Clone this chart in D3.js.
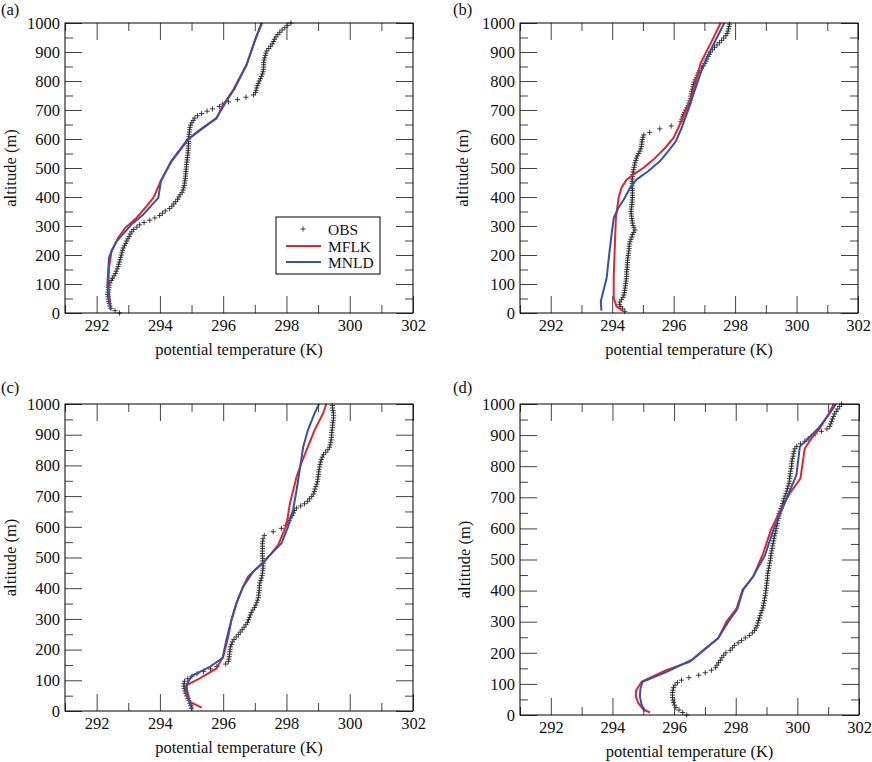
<!DOCTYPE html>
<html>
<head>
<meta charset="utf-8">
<script src="https://cdn.jsdelivr.net/npm/d3@7"></script>
<style>
  html, body { margin: 0; padding: 0; background: #fff; }
  svg, svg text { font-family: "Liberation Serif", Tinos, "Times New Roman", Times, "Nimbus Roman", "DejaVu Serif", serif; }
</style>
</head>
<body>
<script>
// ---------- tick values / labels ----------
const xDomain = [291, 302];
const yDomain = [0, 1000];
const xMajor = [292, 294, 296, 298, 300, 302];
const xMinor = [291, 293, 295, 297, 299, 301];
const yMajor = [0, 100, 200, 300, 400, 500, 600, 700, 800, 900, 1000];
const yMinor = [50, 150, 250, 350, 450, 550, 650, 750, 850, 950];
const xTitle = "potential temperature (K)";
const yTitle = "altitude (m)";
const seriesNames = ["OBS", "MFLK", "MNLD"];
const panelLetters = ["(a)", "(b)", "(c)", "(d)"];

// ---------- data: [potential temperature (K), altitude (m)] ----------
const obsA = [[292.72,0],[292.58,8],[292.45,16],[292.42,24],[292.40,32],[292.38,40],[292.37,48],[292.36,56],[292.35,64],[292.36,72],[292.37,80],[292.38,88],[292.39,96],[292.42,104],[292.46,112],[292.50,120],[292.55,128],[292.59,136],[292.62,144],[292.65,152],[292.68,160],[292.70,168],[292.72,176],[292.74,184],[292.76,192],[292.78,200],[292.80,208],[292.82,216],[292.84,224],[292.88,232],[292.92,240],[292.95,248],[292.99,256],[293.03,264],[293.06,272],[293.11,280],[293.17,288],[293.27,296],[293.36,304],[293.50,312],[293.68,320],[293.84,328],[293.99,336],[294.08,344],[294.17,352],[294.30,360],[294.38,368],[294.44,376],[294.50,384],[294.56,392],[294.60,400],[294.64,408],[294.70,416],[294.73,424],[294.75,432],[294.77,440],[294.78,448],[294.79,456],[294.80,464],[294.81,472],[294.82,480],[294.82,488],[294.83,496],[294.84,504],[294.84,512],[294.85,520],[294.86,528],[294.87,536],[294.88,544],[294.89,552],[294.89,560],[294.90,568],[294.90,576],[294.90,584],[294.90,592],[294.91,600],[294.92,608],[294.92,616],[294.93,624],[294.94,632],[294.95,640],[294.97,648],[295.01,656],[295.05,664],[295.10,672],[295.19,680],[295.32,688],[295.49,696],[295.66,704],[295.88,712],[295.98,720],[296.17,728],[296.45,736],[296.72,744],[296.96,752],[297.02,760],[297.04,768],[297.06,776],[297.08,784],[297.11,792],[297.14,800],[297.18,808],[297.21,816],[297.24,824],[297.26,832],[297.27,840],[297.28,848],[297.28,856],[297.28,864],[297.29,872],[297.31,880],[297.33,888],[297.35,896],[297.38,904],[297.44,912],[297.50,920],[297.55,928],[297.59,936],[297.62,944],[297.67,952],[297.73,960],[297.79,968],[297.86,976],[297.95,984],[298.04,992],[298.14,1000]];
const mflkA = [[292.44,12],[292.37,98],[292.39,155],[292.47,213],[292.68,259],[292.90,293],[293.26,328],[293.53,362],[293.79,397],[293.89,420],[294.02,454],[294.37,523],[294.89,598],[295.26,632],[295.79,672],[296.00,718],[296.32,770],[296.74,856],[297.03,948],[297.21,1000]];
const mnldA = [[292.44,12],[292.34,98],[292.39,190],[292.47,213],[292.63,247],[293.10,305],[293.47,339],[293.95,397],[294.03,454],[294.35,523],[294.87,598],[295.79,672],[296.10,730],[296.34,770],[296.74,856],[297.03,948],[297.23,1000]];

const obsB = [[294.41,6],[294.34,14],[294.28,22],[294.24,30],[294.25,38],[294.30,46],[294.35,54],[294.38,62],[294.40,70],[294.41,78],[294.42,86],[294.43,94],[294.44,102],[294.45,110],[294.46,118],[294.47,126],[294.47,134],[294.47,142],[294.48,150],[294.49,158],[294.49,166],[294.50,174],[294.50,182],[294.51,190],[294.52,198],[294.53,206],[294.54,214],[294.55,222],[294.55,230],[294.56,238],[294.58,246],[294.61,254],[294.64,262],[294.66,270],[294.70,278],[294.74,286],[294.71,294],[294.68,302],[294.66,310],[294.65,318],[294.64,326],[294.63,334],[294.62,342],[294.61,350],[294.62,358],[294.63,366],[294.64,374],[294.65,382],[294.65,390],[294.66,398],[294.66,406],[294.66,414],[294.66,422],[294.65,430],[294.65,438],[294.65,446],[294.65,454],[294.65,462],[294.66,470],[294.67,478],[294.68,486],[294.70,494],[294.71,502],[294.73,510],[294.74,518],[294.77,526],[294.79,534],[294.82,542],[294.86,550],[294.90,558],[294.93,566],[294.95,574],[294.96,582],[294.97,590],[294.98,598],[295.00,606],[295.03,614],[295.22,623],[295.55,635],[295.92,645],[296.24,660],[296.27,668],[296.29,676],[296.32,684],[296.35,692],[296.39,700],[296.43,708],[296.47,716],[296.50,724],[296.53,732],[296.55,740],[296.56,748],[296.58,756],[296.59,764],[296.61,772],[296.63,780],[296.65,788],[296.67,796],[296.70,804],[296.74,812],[296.77,820],[296.80,828],[296.85,836],[296.91,844],[296.96,852],[297.01,860],[297.05,868],[297.08,876],[297.12,884],[297.16,892],[297.20,900],[297.26,908],[297.33,916],[297.41,924],[297.49,932],[297.56,940],[297.63,948],[297.70,956],[297.74,964],[297.77,972],[297.79,980],[297.80,988],[297.82,996]];
const mflkB = [[294.36,6],[294.14,23],[294.05,52],[294.05,121],[294.08,213],[294.12,328],[294.21,397],[294.30,431],[294.47,460],[294.68,477],[295.01,500],[295.39,534],[295.72,569],[295.99,603],[296.15,638],[296.29,672],[296.53,730],[296.69,787],[296.88,862],[297.07,902],[297.29,948],[297.53,1000]];
const mnldB = [[293.65,8],[293.63,40],[293.71,75],[293.82,121],[293.89,190],[293.98,270],[294.05,328],[294.20,362],[294.41,397],[294.58,431],[294.79,460],[295.17,489],[295.55,523],[295.82,557],[296.07,592],[296.26,638],[296.42,684],[296.64,753],[296.86,822],[297.07,879],[297.29,925],[297.65,1000]];

const obsC = [[295.00,9],[294.98,17],[294.95,25],[294.92,33],[294.89,41],[294.85,49],[294.82,57],[294.79,65],[294.77,73],[294.76,81],[294.76,89],[294.78,97],[294.88,105],[295.01,113],[295.17,121],[295.38,129],[295.60,137],[295.80,145],[296.08,153],[296.16,161],[296.18,169],[296.19,177],[296.20,185],[296.21,193],[296.22,201],[296.23,209],[296.26,217],[296.29,225],[296.34,233],[296.41,241],[296.48,249],[296.54,257],[296.60,265],[296.66,273],[296.72,281],[296.77,289],[296.80,297],[296.83,305],[296.86,313],[296.89,321],[296.94,329],[296.99,337],[297.03,345],[297.06,353],[297.09,361],[297.11,369],[297.12,377],[297.13,385],[297.14,393],[297.14,401],[297.15,409],[297.16,417],[297.19,425],[297.21,433],[297.23,441],[297.24,449],[297.25,457],[297.26,465],[297.26,473],[297.26,481],[297.25,489],[297.25,497],[297.24,505],[297.24,513],[297.24,521],[297.24,529],[297.24,537],[297.24,545],[297.25,553],[297.26,561],[297.30,572],[297.58,584],[297.84,595],[297.98,605],[298.05,613],[298.09,621],[298.13,629],[298.18,637],[298.22,645],[298.25,653],[298.32,661],[298.45,668],[298.57,675],[298.67,683],[298.73,691],[298.80,699],[298.85,707],[298.88,715],[298.90,723],[298.93,731],[298.96,739],[298.98,747],[298.99,755],[299.00,763],[299.01,771],[299.02,779],[299.03,787],[299.05,795],[299.06,803],[299.08,811],[299.10,819],[299.13,827],[299.17,835],[299.24,843],[299.31,851],[299.36,859],[299.38,867],[299.40,875],[299.41,883],[299.42,891],[299.43,899],[299.43,907],[299.44,915],[299.45,923],[299.46,931],[299.47,939],[299.48,947],[299.49,955],[299.49,963],[299.48,971],[299.47,979],[299.46,987],[299.45,995]];
const mflkC = [[295.32,11],[294.95,30],[294.84,58],[294.81,79],[294.89,87],[295.26,106],[295.79,139],[296.00,177],[296.16,242],[296.26,296],[296.42,351],[296.61,400],[296.79,438],[297.00,459],[297.26,483],[297.53,514],[297.74,541],[298.00,606],[298.11,676],[298.32,763],[298.47,807],[298.68,861],[298.89,915],[299.16,970],[299.26,1000]];
const mnldC = [[295.00,9],[294.93,36],[294.86,68],[294.84,85],[295.00,114],[295.58,144],[295.98,172],[296.10,231],[296.26,296],[296.42,351],[296.63,405],[296.95,454],[297.26,483],[297.58,519],[297.84,546],[298.05,600],[298.21,655],[298.32,720],[298.42,785],[298.53,861],[298.68,915],[298.89,970],[299.03,1000]];

const obsD = [[296.41,0],[296.28,8],[296.16,16],[296.06,24],[296.01,32],[295.98,40],[295.96,48],[295.95,56],[295.95,64],[295.95,72],[295.96,80],[295.98,88],[296.03,96],[296.11,104],[296.24,112],[296.48,120],[296.80,128],[297.01,136],[297.21,144],[297.34,152],[297.39,160],[297.44,168],[297.50,176],[297.55,184],[297.61,192],[297.68,200],[297.82,208],[297.89,216],[297.96,224],[298.08,232],[298.19,240],[298.31,248],[298.44,256],[298.54,264],[298.61,272],[298.66,280],[298.70,288],[298.72,296],[298.74,304],[298.77,312],[298.79,320],[298.82,328],[298.85,336],[298.88,344],[298.90,352],[298.91,360],[298.93,368],[298.94,376],[298.96,384],[298.97,392],[298.98,400],[298.99,408],[299.00,416],[299.01,424],[299.02,432],[299.03,440],[299.03,448],[299.04,456],[299.06,464],[299.07,472],[299.09,480],[299.10,488],[299.12,496],[299.13,504],[299.14,512],[299.15,520],[299.17,528],[299.18,536],[299.20,544],[299.21,552],[299.23,560],[299.24,568],[299.26,576],[299.28,584],[299.30,592],[299.31,600],[299.33,608],[299.35,616],[299.36,624],[299.38,632],[299.40,640],[299.41,648],[299.44,656],[299.47,664],[299.50,672],[299.52,680],[299.55,688],[299.57,696],[299.60,704],[299.63,712],[299.66,720],[299.68,728],[299.70,736],[299.73,744],[299.74,752],[299.75,760],[299.76,768],[299.77,776],[299.78,784],[299.80,792],[299.81,800],[299.82,808],[299.82,816],[299.84,824],[299.86,832],[299.88,840],[299.89,848],[299.92,856],[299.98,864],[300.10,872],[300.24,880],[300.35,888],[300.45,896],[300.58,904],[300.78,912],[300.96,920],[301.05,928],[301.08,936],[301.11,944],[301.14,952],[301.17,960],[301.21,968],[301.26,976],[301.31,984],[301.37,992],[301.43,1000]];
const mflkD = [[295.22,8],[295.00,18],[294.84,38],[294.76,59],[294.76,78],[294.95,107],[295.76,145],[296.51,171],[296.84,198],[297.43,247],[297.70,300],[298.03,343],[298.22,402],[298.57,445],[298.89,520],[299.16,600],[299.43,654],[299.76,713],[300.10,761],[300.24,857],[300.46,890],[300.73,922],[301.00,965],[301.18,1000]];
const mnldD = [[295.05,11],[294.95,32],[294.89,59],[294.91,86],[294.98,107],[295.76,139],[296.57,177],[296.95,209],[297.43,247],[297.76,300],[298.05,340],[298.24,402],[298.57,447],[298.95,514],[299.22,595],[299.49,659],[299.70,707],[299.97,772],[300.08,863],[300.41,895],[300.68,922],[301.05,970],[301.25,1000]];

// ---------- layout ----------
const panels = [
  { letter: panelLetters[0], left: 65,  right: 413, top: 23,  bottom: 313, letterX: 1,   letterY: 15,  titleX: 16,  obs: obsA, mflk: mflkA, mnld: mnldA, legend: true },
  { letter: panelLetters[1], left: 520, right: 858, top: 23,  bottom: 313, letterX: 453, letterY: 15,  titleX: 468, obs: obsB, mflk: mflkB, mnld: mnldB },
  { letter: panelLetters[2], left: 65,  right: 413, top: 404, bottom: 711, letterX: 1,   letterY: 393, titleX: 16,  obs: obsC, mflk: mflkC, mnld: mnldC },
  { letter: panelLetters[3], left: 520, right: 859, top: 404, bottom: 715, letterX: 453, letterY: 393, titleX: 470, obs: obsD, mflk: mflkD, mnld: mnldD }
];

const RED = "#e8232a", BLUE = "#3553a6", TICK = "#444";
const FS = 16.5;
const FONT = '"Liberation Serif", Tinos, "Times New Roman", Times, "Nimbus Roman", "DejaVu Serif", serif';

const svg = d3.select("body").append("svg")
  .attr("width", 872).attr("height", 762)
  .attr("viewBox", "0 0 872 762")
  .attr("font-family", FONT);
svg.append("rect").attr("width", 872).attr("height", 762).attr("fill", "#fff");

const plus = "M-2.6,0H2.6M0,-2.6V2.6";

panels.forEach((p) => {
  const x = d3.scaleLinear().domain(xDomain).range([p.left, p.right]);
  const y = d3.scaleLinear().domain(yDomain).range([p.bottom, p.top]);
  const g = svg.append("g");

  // observations
  g.append("g").selectAll("path").data(p.obs).join("path")
    .attr("d", plus)
    .attr("transform", d => `translate(${x(d[0])},${y(d[1])})`)
    .attr("fill", "none").attr("stroke", "#2a2a2a").attr("stroke-width", 0.9);

  const line = d3.line().x(d => x(d[0])).y(d => y(d[1]));
  g.append("path").datum(p.mflk).attr("d", line)
    .attr("fill", "none").attr("stroke", RED).attr("stroke-width", 2).attr("stroke-linejoin", "round");
  g.append("path").datum(p.mnld).attr("d", line)
    .attr("fill", "none").attr("stroke", BLUE).attr("stroke-width", 2).attr("stroke-linejoin", "round");

  // axes: inward ticks on all four sides
  function styleAxis(sel) {
    sel.attr("font-family", FONT).attr("font-size", FS);
    sel.select(".domain").remove();
    sel.selectAll(".tick line").attr("stroke", TICK).attr("stroke-width", 1);
    sel.selectAll(".tick text").attr("fill", "#111").attr("font-family", FONT).attr("font-size", FS);
  }
  g.append("g").attr("transform", `translate(0,${p.bottom})`)
    .call(d3.axisBottom(x).tickValues(xMajor).tickSize(-17).tickPadding(6.5).tickFormat(d3.format("d")))
    .call(styleAxis);
  g.append("g").attr("transform", `translate(0,${p.bottom})`)
    .call(d3.axisBottom(x).tickValues(xMinor).tickSize(-8).tickFormat(""))
    .call(styleAxis);
  g.append("g").attr("transform", `translate(0,${p.top})`)
    .call(d3.axisTop(x).tickValues(xMajor).tickSize(-17).tickFormat(""))
    .call(styleAxis);
  g.append("g").attr("transform", `translate(0,${p.top})`)
    .call(d3.axisTop(x).tickValues(xMinor).tickSize(-8).tickFormat(""))
    .call(styleAxis);
  g.append("g").attr("transform", `translate(${p.left},0)`)
    .call(d3.axisLeft(y).tickValues(yMajor).tickSize(-17).tickPadding(5).tickFormat(d3.format("d")))
    .call(styleAxis);
  g.append("g").attr("transform", `translate(${p.left},0)`)
    .call(d3.axisLeft(y).tickValues(yMinor).tickSize(-8).tickFormat(""))
    .call(styleAxis);
  g.append("g").attr("transform", `translate(${p.right},0)`)
    .call(d3.axisRight(y).tickValues(yMajor).tickSize(-17).tickFormat(""))
    .call(styleAxis);
  g.append("g").attr("transform", `translate(${p.right},0)`)
    .call(d3.axisRight(y).tickValues(yMinor).tickSize(-8).tickFormat(""))
    .call(styleAxis);

  // frame
  g.append("rect")
    .attr("x", p.left).attr("y", p.top)
    .attr("width", p.right - p.left).attr("height", p.bottom - p.top)
    .attr("fill", "none").attr("stroke", "#000").attr("stroke-width", 1);

  // titles
  g.append("text")
    .attr("x", (p.left + p.right) / 2).attr("y", p.bottom + 42)
    .attr("text-anchor", "middle").attr("font-size", FS).attr("fill", "#111")
    .text(xTitle);
  g.append("text")
    .attr("transform", `translate(${p.titleX},${(p.top + p.bottom) / 2}) rotate(-90)`)
    .attr("text-anchor", "middle").attr("font-size", FS).attr("fill", "#111")
    .text(yTitle);
  g.append("text")
    .attr("x", p.letterX).attr("y", p.letterY)
    .attr("font-size", FS).attr("fill", "#111")
    .text(p.letter);

  // legend
  if (p.legend) {
    const lg = g.append("g");
    lg.append("rect").attr("x", 276).attr("y", 217).attr("width", 104).attr("height", 57)
      .attr("fill", "#fff").attr("stroke", "#000").attr("stroke-width", 1);
    const rows = [229, 246, 262];
    lg.append("path").attr("d", plus).attr("transform", `translate(303,${rows[0]})`)
      .attr("stroke", "#2a2a2a").attr("stroke-width", 0.9).attr("fill", "none");
    lg.append("line").attr("x1", 286).attr("x2", 321).attr("y1", rows[1]).attr("y2", rows[1])
      .attr("stroke", RED).attr("stroke-width", 2);
    lg.append("line").attr("x1", 286).attr("x2", 321).attr("y1", rows[2]).attr("y2", rows[2])
      .attr("stroke", BLUE).attr("stroke-width", 2);
    seriesNames.forEach((s, k) => {
      lg.append("text").attr("x", 328).attr("y", rows[k] + 5.5)
        .attr("font-size", 15.5).attr("fill", "#111").text(s);
    });
  }
});
</script>
</body>
</html>
